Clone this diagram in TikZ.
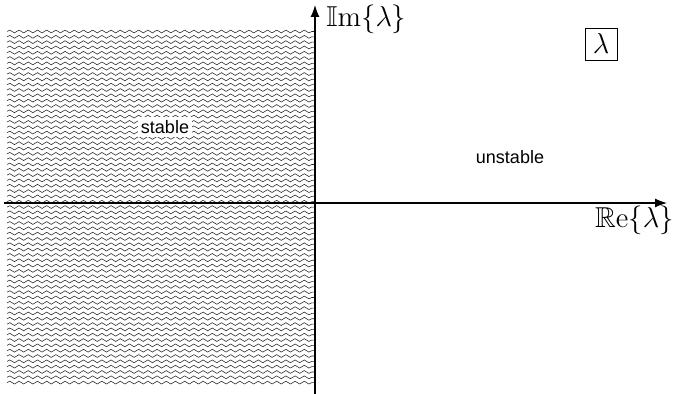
\documentclass[tikz,border=0pt]{standalone}
\usepackage{amssymb}
\usepackage[no-math]{fontspec}
\newfontfamily\hvfont{Liberation Sans}
\usetikzlibrary{arrows.meta,decorations.pathmorphing}
\tikzset{
  axis/.style={line width=0.6pt,-{Latex[length=6pt,width=4.5pt]}},
  wave/.style={line width=0.28pt,black!85,decorate,decoration={snake,segment length=4.6pt,amplitude=0.7pt}},
  lbl/.style={font=\Large,inner sep=0pt},
  region/.style={font=\hvfont\small,inner sep=1.5pt}
}
\begin{document}
\begin{tikzpicture}[x=0.5pt,y=-0.5pt]
\useasboundingbox (0,0) rectangle (675,394);
% hatched stable half-plane
\foreach \k in {0,...,66}{
  \draw[wave] (7,{31.5+5.32*\k}) -- (315,{31.5+5.32*\k});
}
\coordinate (o) at (315,203);
\coordinate (xs) at (4,203);
\coordinate (xe) at (667,203);
\coordinate (ys) at (315,394);
\coordinate (ye) at (315,5);
\draw[axis] (xs) -- (xe);
\draw[axis] (ys) -- (ye);
\node[lbl,anchor=west] (im) at (326,19) {$\mathbb{I}\mathrm{m}\{\lambda\}$};
\node[lbl,anchor=east] (re) at (674,220) {$\mathbb{R}\mathrm{e}\{\lambda\}$};
\node[lbl,draw,line width=0.4pt,minimum width=16pt,minimum height=16pt] (lam) at (601,44) {$\lambda$};
\node[region,fill=white] (st) at (165,127) {stable};
\node[region] (un) at (510,157) {unstable};
\end{tikzpicture}
\end{document}
